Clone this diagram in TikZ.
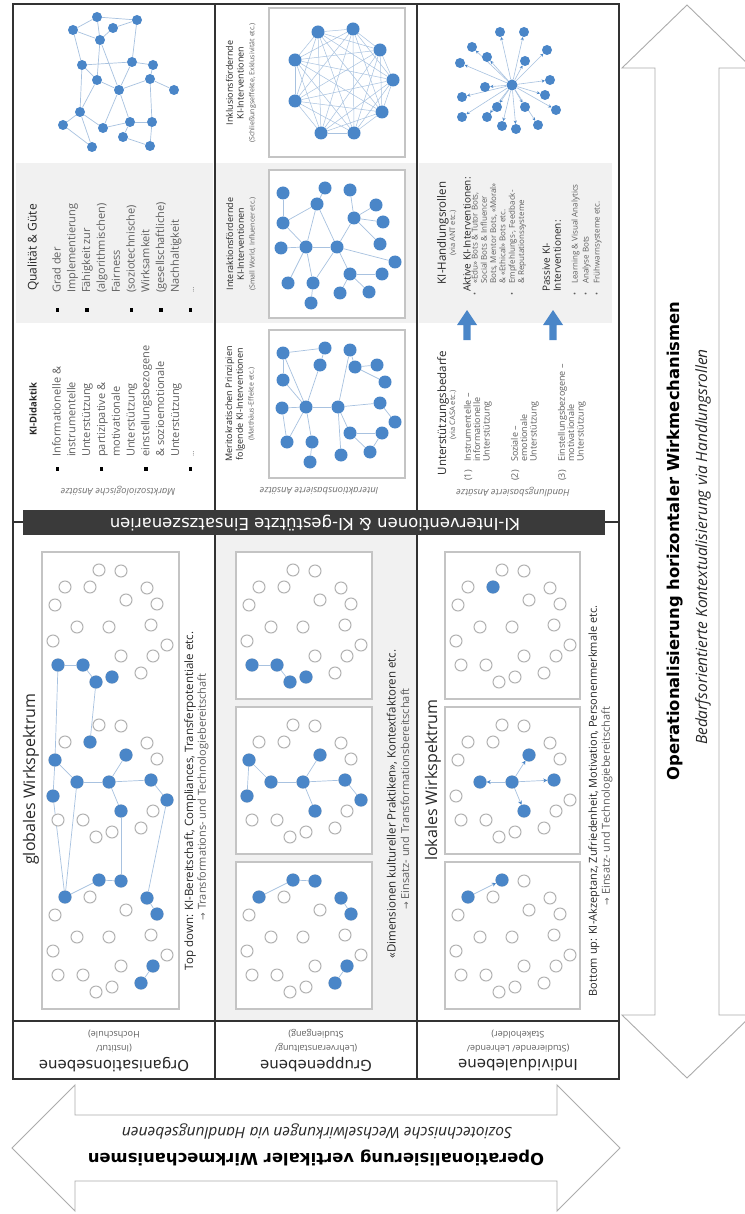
\documentclass[tikz,border=0pt]{standalone}
\usepackage{fontspec}
\setmainfont{Open Sans}
\newfontfamily\dv{DejaVu Sans}
\usetikzlibrary{arrows.meta}

\definecolor{nodeblue}{RGB}{74,134,200}
\definecolor{edgeblue}{RGB}{168,194,224}
\definecolor{holline}{RGB}{178,178,178}
\definecolor{boxline}{RGB}{196,196,196}
\definecolor{bggrey}{RGB}{241,241,241}
\definecolor{framecol}{RGB}{50,50,50}
\definecolor{barcol}{RGB}{58,58,58}
\definecolor{txtdark}{RGB}{40,40,40}
\definecolor{txtgrey}{RGB}{95,95,95}
\definecolor{txtlight}{RGB}{115,115,115}
\definecolor{arrline}{RGB}{172,172,172}

\pgfdeclarelayer{bg}
\pgfdeclarelayer{edges}
\pgfsetlayers{bg,edges,main}

\newcommand{\fsz}[2]{\fontsize{#1}{#2}\selectfont}
\newcommand{\sqb}{\textcolor{black}{\rule[1.6pt]{3.4pt}{3.4pt}}}
\newcommand{\bx}[2]{\makebox[#1][l]{#2}}

% twenty member positions of one cluster, relative to the top-left corner of its box
\newcommand{\cluster}[3]{%
  \foreach \i/\pa/\pb in {1/57/18,2/79/19,3/23/35,4/48/35,5/105/36,6/13/53,7/84/48,8/115/52,
      9/35/75,10/67/75,11/109/73,12/11/89,13/125/93,14/79/104,15/111/104,16/16/113,
      17/41/113,18/99/121,19/54/130,20/70/125}
    {\node[hol] (#1-\i) at ({#2+\pa},{#3+\pb}) {};}}
% members of a cluster that take part in an intervention
\newcommand{\litnodes}[2]{\foreach \i in {#2} {\node[ful] (#1-f\i) at (#1-\i) {};}}

\begin{document}
\begin{tikzpicture}[x=1pt,y=-1pt,
  hol/.style={circle, draw=holline, line width=1pt, fill=white, minimum size=12pt, inner sep=0pt},
  ful/.style={circle, fill=nodeblue, minimum size=13pt, inner sep=0pt},
  net/.style={circle, fill=nodeblue, minimum size=#1, inner sep=0pt},
  edg/.style={draw=edgeblue, line width=0.7pt},
  arr/.style={draw=edgeblue, line width=0.7pt, -{Stealth[length=4pt,width=4pt,color=nodeblue]}},
  sarr/.style={draw=edgeblue, line width=0.6pt, -{Stealth[length=3.2pt,width=3.2pt,color=nodeblue]}},
  frame/.style={draw=framecol, line width=1.3pt},
  netbox/.style={draw=boxline, line width=1.3pt, fill=white},
  bigarrow/.style={draw=arrline, line width=0.9pt, fill=white},
  rot/.style={rotate=90, inner sep=0pt},
  flip/.style={rotate=180, inner sep=0pt}]

\useasboundingbox (0,0) rectangle (744,1214);

% ---------- backgrounds, boxes and the two outline arrows
\begin{pgfonlayer}{bg}
  \fill[white] (0,0) rectangle (744,1214);
  \fill[bggrey] (16,163) rectangle (213,323);
  \fill[bggrey] (215,163) rectangle (417,323);
  \fill[bggrey] (419,163) rectangle (612,323);
  \fill[bggrey] (215,522) rectangle (417,1021);
  % vertical double arrow
  \draw[bigarrow] (687,5) -- (752,68) -- (719,68) -- (719,1015) -- (752,1015) -- (687,1078)
     -- (622,1015) -- (655,1015) -- (655,68) -- (622,68) -- cycle;
  % horizontal double arrow
  \draw[bigarrow] (12,1148) -- (75,1085) -- (75,1115) -- (557,1115) -- (557,1085) -- (620,1148)
     -- (557,1211) -- (557,1181) -- (75,1181) -- (75,1211) -- cycle;
  % network boxes
  \draw[netbox] (269,8) rectangle (405,157);
  \draw[netbox] (269,170) rectangle (405,318);
  \draw[netbox] (269,330) rectangle (405,478);
  \draw[netbox] (42,552) rectangle (179,1009);
  \foreach \yy in {552,707,862} {
    \draw[netbox] (236,\yy) rectangle (372,\yy+147);
    \draw[netbox] (445,\yy) rectangle (580,\yy+147);
  }
  % block arrows from support needs to action roles
  \foreach \ax in {467,553}
    \fill[nodeblue] (\ax-3.7,340) -- (\ax-3.7,325) -- (\ax-10,325) -- (\ax,310) -- (\ax+10,325)
       -- (\ax+3.7,325) -- (\ax+3.7,340) -- cycle;
\end{pgfonlayer}

% ---------- upper left: free network
\foreach \n/\xx/\yy in {u1/97/17, u2/137/20, u3/73/30, u4/113/28, u5/100/40, u6/82/65, u7/132/62,
    u8/153/65, u9/97/80, u10/150/79, u11/119/90, u12/174/90, u13/80/112, u14/63/125, u15/103/128,
    u16/130/122, u17/152/122, u18/123/137, u19/92/147, u20/150/146}
  \node[net=10pt] (\n) at (\xx,\yy) {};
\begin{pgfonlayer}{edges}
\foreach \a/\b in {u1/u3, u1/u2, u1/u5, u2/u7, u3/u5, u3/u6, u4/u5, u4/u2, u5/u9, u5/u11, u6/u7,
    u6/u9, u6/u13, u7/u8, u7/u11, u8/u10, u10/u12, u10/u11, u10/u17, u9/u11, u9/u13, u11/u15,
    u11/u16, u13/u14, u13/u15, u13/u19, u14/u19, u15/u16, u16/u17, u16/u18, u17/u20, u18/u20}
  \draw[edg] (\a) -- (\b);
\end{pgfonlayer}

% ---------- inclusion: complete graph
\foreach \n/\xx/\yy in {1/318/32, 2/353/29, 3/380/50, 4/393/80, 5/382/112, 6/354/133, 7/321/133,
    8/295/101, 9/295/60}
  \node[net=13pt] (k\n) at (\xx,\yy) {};
\begin{pgfonlayer}{edges}
\foreach \i in {1,...,8} {
  \pgfmathtruncatemacro\jst{\i+1}
  \foreach \j in {\jst,...,9} \draw[edg, line width=0.5pt] (k\i) -- (k\j);
}
\end{pgfonlayer}

% ---------- interaction: small world
\foreach \n/\xx/\yy in {1/283/193, 2/325/188, 3/350/190, 4/283/223, 5/317/204, 6/354/218,
    7/376/205, 8/383/222, 9/281/248, 10/306/247, 11/337/247, 12/380/244, 13/395/262, 14/288/283,
    15/313/283, 16/350/274, 17/382/274, 18/311/303, 19/340/293, 20/369/292}
  \node[net=13pt] (i\n) at (\xx,\yy) {};
\begin{pgfonlayer}{edges}
\foreach \a/\b in {1/4, 4/5, 5/2, 5/10, 5/11, 10/11, 10/9, 10/14, 10/15, 11/6, 11/16, 11/13,
    11/15, 6/3, 6/7, 6/8, 6/12, 16/17, 16/20, 16/19, 15/18, 4/10}
  \draw[edg] (i\a) -- (i\b);
\end{pgfonlayer}

% ---------- meritocracy: two hubs
\foreach \n/\xx/\yy in {1/283/353, 2/325/348, 3/350/350, 4/283/380, 5/320/365, 6/355/367,
    7/377/365, 8/385/382, 9/282/408, 10/306/407, 11/338/407, 12/380/403, 13/395/422, 14/287/442,
    15/312/442, 16/350/433, 17/382/433, 18/310/462, 19/341/455, 20/370/452}
  \node[net=13pt] (m\n) at (\xx,\yy) {};
\begin{pgfonlayer}{edges}
\foreach \a/\b in {1/2, 1/4, 1/10, 2/5, 4/10, 5/10, 10/11, 10/9, 10/14, 10/15, 15/18, 11/3,
    3/6, 6/7, 6/8, 11/12, 11/16, 11/19, 16/17, 17/20, 16/20, 12/13, 9/14}
  \draw[edg] (m\a) -- (m\b);
\end{pgfonlayer}

% ---------- action roles: star with directed ties
\node[net=11pt] (c0) at (512,85) {};
\foreach \n/\xx/\yy in {1/500/32, 2/524/32, 3/472/47, 4/487/57, 5/547/50, 6/525/61, 7/460/63,
    8/550/80, 9/462/97, 10/485/87, 11/545/95, 12/525/107, 13/497/107, 14/556/110, 15/462/117,
    16/487/117, 17/502/126, 18/516/129, 19/538/125}
  \node[net=10pt] (s\n) at (\xx,\yy) {};
\begin{pgfonlayer}{edges}
\foreach \n in {1,...,19} \draw[sarr] (c0) -- (s\n);
\end{pgfonlayer}

% ---------- lower part: clusters of actors
\cluster{g1}{42}{552} \cluster{g2}{42}{707} \cluster{g3}{42}{862}
\cluster{h1}{236}{552} \cluster{h2}{236}{707} \cluster{h3}{236}{862}
\cluster{j1}{445}{552} \cluster{j2}{445}{707} \cluster{j3}{445}{862}

\litnodes{g1}{16,17,19,20} \litnodes{g2}{4,6,7,9,10,11,12,13,14} \litnodes{g3}{1,2,3,5,8,15,18}
\litnodes{h1}{16,17,19,20} \litnodes{h2}{6,7,9,10,11,12,13,14} \litnodes{h3}{1,2,3,5,8,15,18}
\litnodes{j1}{4} \litnodes{j2}{7,9,10,11,14} \litnodes{j3}{1,3}

\begin{pgfonlayer}{edges}
\foreach \a/\b in {g1-f16/g1-f17, g1-f17/g1-f19, g1-f19/g2-f4, g1-f16/g2-f6, g2-f6/g2-f12,
    g2-f6/g2-f9, g2-f9/g2-f10, g2-f10/g2-f7, g2-f10/g2-f11, g2-f10/g2-f14, g2-f11/g2-f13,
    g2-f14/g3-f2, g3-f1/g3-f2, g3-f3/g3-f1, g2-f12/g3-f3, g2-f9/g3-f3, g2-f13/g3-f5,
    g3-f5/g3-f8, g3-f15/g3-f18,
    h1-f16/h1-f17, h1-f17/h1-f19, h2-f6/h2-f12, h2-f6/h2-f9, h2-f9/h2-f10, h2-f10/h2-f7,
    h2-f10/h2-f11, h2-f10/h2-f14, h2-f11/h2-f13, h3-f3/h3-f1, h3-f1/h3-f2, h3-f5/h3-f8,
    h3-f15/h3-f18}
  \draw[edg] (\a) -- (\b);
\foreach \b in {9,7,11,14} \draw[arr] (j2-f10) -- (j2-f\b);
\draw[arr] (j3-f3) -- (j3-f1);
\end{pgfonlayer}

% ---------- frame of the matrix
\draw[frame] (13,4) rectangle (619,1079);
\draw[frame] (215,4) -- (215,1079);
\draw[frame] (417,4) -- (417,1079);
\draw[frame] (13,522) -- (619,522);
\draw[frame] (13,1021) -- (619,1021);
\fill[barcol] (23,510) rectangle (605,535);
\node[flip, text=white, font={\dv\fsz{16.5}{18}}] (bar) at (315,523)
  {KI-Interventionen \& KI-gestützte Einsatzszenarien};

% ---------- column of didactics
\node[rot, anchor=west, text=txtdark, font={\fsz{12}{14}}] (tq) at (33,291) {Qualität \& Güte};
\node[rot, anchor=north west, align=left, text=txtgrey, font={\fsz{11}{14.8}}] (lq) at (52,312)
  {\bx{19pt}{\sqb}Grad der\\\hspace*{19pt}Implementierung\\
   \bx{19pt}{\sqb}Fähigkeit zur\\\hspace*{19pt}(algorithmischen)\\\hspace*{19pt}Fairness\\
   \bx{19pt}{\sqb}(soziotechnische)\\\hspace*{19pt}Wirksamkeit\\
   \bx{19pt}{\sqb}(gesellschaftliche)\\\hspace*{19pt}Nachhaltigkeit\\
   \bx{19pt}{\sqb}\fsz{7}{14.8}…};
\node[rot, anchor=west, text=txtdark, font={\bfseries\fsz{9.5}{12}}] (td) at (33,436) {KI-Didaktik};
\node[rot, anchor=north west, align=left, text=txtgrey, font={\fsz{11}{14.8}}] (ld) at (52,471)
  {\bx{14pt}{\sqb}Informationelle \&\\\hspace*{14pt}instrumentelle\\\hspace*{14pt}Unterstützung\\
   \bx{14pt}{\sqb}partizipative \&\\\hspace*{14pt}motivationale\\\hspace*{14pt}Unterstützung\\
   \bx{14pt}{\sqb}einstellungsbezogene\\\hspace*{14pt}\& sozioemotionale\\\hspace*{14pt}Unterstützung\\
   \bx{14pt}{\sqb}\fsz{7}{14.8}…};
\node[flip, text=txtlight, font={\itshape\fsz{9.5}{11}}] (a1) at (118,491) {Marktsoziologische Ansätze};

% ---------- column of interaction types
\node[rot, align=center, text=txtdark, font={\fsz{9}{10.8}}] (n1) at (241,83)
  {Inklusionsfördernde\\KI-Interventionen\\{\color{txtgrey}\fsz{7}{10.8}(Schließungseffekte, Exklusivität etc.)}};
\node[rot, align=center, text=txtdark, font={\fsz{9}{10.8}}] (n2) at (241,244)
  {Interaktionsfördernde\\KI-Interventionen\\{\color{txtgrey}\fsz{7}{10.8}(Small World, Influencer etc.)}};
\node[rot, align=center, text=txtdark, font={\fsz{9}{10.8}}] (n3) at (240,404)
  {Meritokratischen Prinzipien\\folgende KI-Interventionen\\{\color{txtgrey}\fsz{7}{10.8}(Matthäus-Effekte etc.)}};
\node[flip, text=txtlight, font={\itshape\fsz{9.5}{11}}] (a2) at (319,491) {Interaktionsbasierte Ansätze};

% ---------- column of action roles
\node[rot, text=txtdark, font={\fsz{11.5}{13}}] (kh) at (443,233) {KI-Handlungsrollen};
\node[rot, text=txtgrey, font={\fsz{7.5}{9}}] (kha) at (453,233) {(via ANT etc.)};
\node[rot, anchor=west, text=txtdark, font={\fsz{10}{12}}] (ak) at (467,292) {Aktive KI-Interventionen:};
\node[rot, anchor=north west, align=left, text=txtgrey, font={\fsz{8}{9.3}}] (la) at (471.3,296)
  {\bx{12pt}{•}«Edu» Bots \& Tutor Bots,\\\hspace*{12pt}Social Bots \& Influencer\\
   \hspace*{12pt}Bots, Mentor Bots, «Moral»\\\hspace*{12pt}\& «Ethical» Bots etc.\\
   \bx{12pt}{•}Empfehlungs-, Feedback-\\\hspace*{12pt}\& Reputationssysteme};
\node[rot, anchor=north west, align=left, text=txtdark, font={\fsz{10}{11}}] (pk) at (542.4,292)
  {Passive KI-\\Interventionen:};
\node[rot, anchor=north west, align=left, text=txtgrey, font={\fsz{8}{11}}] (lp) at (571.3,296)
  {\bx{12pt}{•}Learning \& Visual Analytics\\\bx{12pt}{•}Analyse Bots\\\bx{12pt}{•}Frühwarnsysteme etc.};
\node[rot, text=txtdark, font={\fsz{11.5}{13}}] (ub) at (443,413) {Unterstützungsbedarfe};
\node[rot, text=txtgrey, font={\fsz{7.5}{9}}] (uba) at (453,415) {(via CASA etc.)};
\node[rot, anchor=north west, align=left, text=txtgrey, font={\fsz{9}{9.4}}] (u1) at (463.8,481)
  {\bx{19pt}{(1)}Instrumentelle –\\\hspace*{19pt}informationelle\\\hspace*{19pt}Unterstützung};
\node[rot, anchor=north west, align=left, text=txtgrey, font={\fsz{9}{9.4}}] (u2) at (510.8,481)
  {\bx{19pt}{(2)}Soziale –\\\hspace*{19pt}emotionale\\\hspace*{19pt}Unterstützung};
\node[rot, anchor=north west, align=left, text=txtgrey, font={\fsz{9}{9.4}}] (u3) at (557.8,481)
  {\bx{19pt}{(3)}Einstellungsbezogene –\\\hspace*{19pt}motivationale\\\hspace*{19pt}Unterstützung};
\node[flip, text=txtlight, font={\itshape\fsz{9.5}{11}}] (a3) at (513,492) {Handlungsbasierte Ansätze};

% ---------- lower part: scope of effects
\node[rot, anchor=west, text=txtdark, font={\fsz{16}{18}}] (gw) at (31,865) {globales Wirkspektrum};
\node[rot, anchor=west, text=txtdark, font={\fsz{16}{18}}] (lw) at (433,861) {lokales Wirkspektrum};
\node[rot, text=txtdark, font={\fsz{11.5}{13}}] (td1) at (190,801)
  {Top down: KI-Bereitschaft, Compliances, Transferpotentiale etc.};
\node[rot, text=txtgrey, font={\fsz{11}{13}}] (td2) at (203,797)
  {{\dv\fsz{9}{12}→} Transformations- und Technologiebereitschaft};
\node[rot, text=txtdark, font={\fsz{11.5}{13}}] (gd1) at (392,804)
  {«Dimensionen kultureller Praktiken», Kontextfaktoren etc.};
\node[rot, text=txtgrey, font={\fsz{11}{13}}] (gd2) at (405,799)
  {{\dv\fsz{9}{12}→} Einsatz- und Transformationsbereitschaft};
\node[rot, text=txtdark, font={\fsz{11}{13}}] (bu1) at (594,801)
  {Bottom up: KI-Akzeptanz, Zufriedenheit, Motivation, Personenmerkmale etc.};
\node[rot, text=txtgrey, font={\fsz{11}{13}}] (bu2) at (607,806)
  {{\dv\fsz{9}{12}→} Einsatz- und Technologiebereitschaft};

% ---------- level labels
\node[flip, text=txtdark, font={\dv\fsz{15}{17}}] (l1) at (114,1065) {Organisationsebene};
\node[flip, align=center, text=txtgrey, font={\fsz{9}{14}}] (l1s) at (114,1041) {(Institut/\\Hochschule)};
\node[flip, text=txtdark, font={\dv\fsz{15}{17}}] (l2) at (316,1065) {Gruppenebene};
\node[flip, align=center, text=txtgrey, font={\fsz{9}{14}}] (l2s) at (316,1041) {(Lehrveranstaltung/\\Studiengang)};
\node[flip, text=txtdark, font={\dv\fsz{15}{17}}] (l3) at (518,1065) {Individualebene};
\node[flip, align=center, text=txtgrey, font={\fsz{9}{14}}] (l3s) at (518,1041) {(Studierende/ Lehrende/\\Stakeholder)};

% ---------- arrow captions
\node[rot, text=black, font={\dv\bfseries\fsz{16.4}{19}}] (hz) at (675,541)
  {Operationalisierung horizontaler Wirkmechanismen};
\node[rot, text=txtdark, font={\itshape\fsz{15.5}{18}}] (hzs) at (703,547)
  {Bedarfsorientierte Kontextualisierung via Handlungsrollen};
\node[flip, text=black, font={\dv\bfseries\fsz{16.4}{19}}] (vt) at (316,1158)
  {Operationalisierung vertikaler Wirkmechanismen};
\node[flip, text=txtdark, font={\itshape\fsz{15.5}{18}}] (vts) at (317,1132)
  {Soziotechnische Wechselwirkungen via Handlungsebenen};
\end{tikzpicture}
\end{document}
